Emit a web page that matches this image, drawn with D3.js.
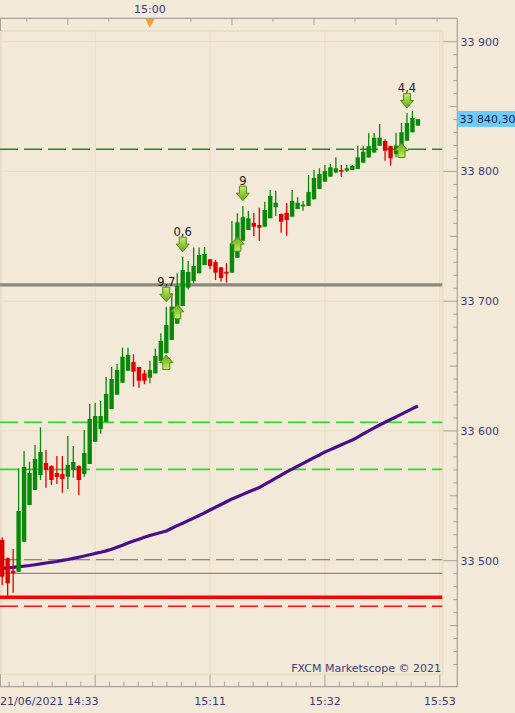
<!DOCTYPE html>
<html><head><meta charset="utf-8">
<script src="https://cdn.jsdelivr.net/npm/d3@7"></script>
<style>html,body{margin:0;padding:0;background:#f2e9d8;overflow:hidden}svg{display:block}</style>
</head><body>
<svg id="c" width="515" height="713"></svg>
<script>
// ---- data (1-minute candles, 21/06/2021 from 14:33) ----
const startTime = "2021-06-21T14:33:00";
const openV = [33516.0,33501.9,33492.3,33491.5,33514.6,33542.9,33554.5,33566.0,33575.3,33573.0,33567.6,33566.8,33564.7,33569.9,33573.0,33566.8,33574.5,33591.7,33601.5,33607.1,33616.9,33627.9,33637.2,33646.4,33653.1,33649.3,33644.4,33641.0,33644.4,33654.1,33659.9,33670.1,33682.7,33696.3,33710.4,33715.6,33721.5,33727.9,33732.3,33730.2,33726.1,33722.7,33722.0,33733.5,33746.6,33754.9,33760.3,33758.7,33757.4,33763.9,33772.4,33767.2,33768.2,33765.1,33771.1,33773.1,33773.4,33778.5,33786.5,33792.1,33796.0,33799.3,33801.1,33800.6,33801.1,33801.9,33806.7,33810.8,33814.6,33819.8,33823.5,33819.6,33813.4,33819.1,33823.7,33830.2,33835.3];
const highV = [33518.0,33502.5,33509.0,33571.2,33584.6,33576.3,33589.2,33602.8,33585.3,33573.5,33580.7,33580.7,33596.1,33588.4,33573.5,33600.7,33620.8,33621.8,33623.1,33641.6,33649.3,33651.6,33664.2,33664.2,33659.1,33649.5,33647.0,33654.1,33663.4,33675.3,33695.8,33706.3,33721.5,33734.1,33731.0,33741.4,33741.4,33741.8,33732.5,33731.8,33726.3,33729.2,33761.8,33767.7,33773.4,33769.5,33768.0,33772.1,33776.7,33785.7,33785.2,33767.5,33775.7,33785.7,33780.1,33777.2,33797.3,33801.1,33802.4,33805.0,33805.7,33810.9,33805.0,33805.0,33805.0,33819.6,33819.8,33829.4,33829.6,33836.6,33824.8,33819.8,33829.9,33837.3,33845.0,33846.6,33840.5];
const lowV = [33481.3,33473.0,33475.3,33491.3,33514.6,33542.9,33554.5,33562.2,33556.3,33558.3,33559.1,33552.4,33555.3,33564.0,33550.6,33564.7,33574.5,33591.7,33597.9,33607.1,33616.9,33627.9,33637.2,33646.4,33634.1,33633.3,33636.0,33636.7,33644.4,33654.1,33659.9,33670.1,33682.7,33696.3,33709.0,33714.0,33721.5,33727.9,33724.6,33716.3,33715.0,33714.3,33722.0,33733.5,33746.6,33754.9,33750.3,33746.6,33757.4,33763.9,33765.7,33752.8,33750.5,33765.1,33771.1,33769.7,33773.4,33778.5,33786.5,33792.1,33796.0,33798.6,33796.0,33799.8,33801.1,33801.9,33806.7,33810.8,33814.6,33819.8,33808.3,33804.4,33811.0,33819.1,33823.7,33830.2,33835.3];
const closeV = [33487.7,33482.6,33490.3,33538.3,33572.2,33567.6,33578.4,33583.8,33569.9,33562.2,33564.5,33563.0,33573.8,33576.1,33562.2,33583.0,33609.2,33611.5,33611.5,33628.5,33640.0,33647.0,33657.2,33658.5,33645.7,33638.7,33638.7,33647.0,33657.8,33669.3,33681.7,33695.8,33711.7,33724.0,33722.5,33727.1,33735.6,33736.4,33727.1,33722.0,33717.9,33721.2,33744.6,33760.8,33764.7,33763.9,33757.4,33756.7,33770.3,33781.1,33775.9,33761.3,33762.6,33777.2,33775.9,33774.4,33784.2,33795.0,33798.0,33800.3,33803.2,33802.4,33799.8,33802.4,33804.2,33810.9,33815.2,33819.6,33826.0,33826.0,33816.0,33810.1,33820.0,33830.2,33837.3,33841.2,33840.3];
const maV = [33494.1,33494.5,33494.9,33495.4,33495.8,33496.3,33496.9,33497.5,33498.2,33498.8,33499.4,33500.2,33500.9,33501.8,33502.7,33503.6,33504.6,33505.6,33506.5,33507.6,33508.8,33510.4,33512.0,33513.6,33515.2,33516.6,33518.0,33519.4,33520.6,33521.7,33522.9,33525.0,33527.0,33528.9,33530.9,33532.8,33534.8,33536.9,33539.1,33541.2,33543.3,33545.4,33547.6,33549.3,33551.1,33552.9,33554.6,33556.4,33558.8,33561.2,33563.6,33566.0,33568.4,33570.6,33572.8,33575.0,33577.2,33579.4,33581.5,33583.8,33585.6,33587.5,33589.3,33591.2,33593.0,33595.3,33597.7,33600.0,33602.3,33604.6,33606.7,33608.8,33610.8,33613.0,33615.1,33617.2,33619.2];

// horizontal levels
const levelPrices = [33817.1, 33712.3, 33713.6, 33606.7, 33570.4, 33500.8, 33490.3, 33471.8, 33464.9];
const levelKinds  = ["darkGreenDash","grayThick","greenThin","limeDash","limeDash","grayDash","graySolid","redThick","redDash"];

// signals
const sigIndex = [30, 33, 44, 74, 30, 32, 43, 73];
const sigDir   = ["down","down","down","down","up","up","up","up"];
const sigPrice = [33699.6, 33738.2, 33777.5, 33848.9, 33658.5, 33697.6, 33749.7, 33821.9];
const sigLabel = ["9,7","0,6","9","4,4","","","",""];

const priceTicks = [33500, 33600, 33700, 33800, 33900];
const lastPrice = 33840.30;
const topLabelTimes = ["15:00"];
const bottomLabelTimes = ["15:11","15:32","15:53"];
const firstLabel = "21/06/2021 14:33";
const watermark = "FXCM Marketscope © 2021";

// ---- drawing ----
const svg = d3.select("#c");
const FONT = "DejaVu Sans, Verdana, sans-serif";
const TXT = "#3d3d78";
const parse = d3.timeParse("%Y-%m-%dT%H:%M:%S");
const t0 = parse(startTime);
const tAt = hm => { const [h,m] = hm.split(":").map(Number); const d = new Date(t0); d.setHours(h, m, 0, 0); return d; };
const times = openV.map((_, i) => new Date(t0.getTime() + i * 60000));

const x = d3.scaleTime().domain([t0, tAt("15:53")]).range([2.2, 439.8]);
const y = d3.scaleLinear().domain([33500, 33900]).range([560.7, 41.7]);

const plot = {l: 1, r: 442.5, t: 31, b: 674.3};
const axisRight = 457.3, axisTop = 18.3, axisBottom = 686.7;

svg.append("rect").attr("width", 515).attr("height", 713).attr("fill", "#f2e9d8");

const clip = svg.append("defs").append("clipPath").attr("id","pc")
  .append("rect").attr("x", 0).attr("y", plot.t).attr("width", plot.r).attr("height", plot.b - plot.t);

const grad = svg.select("defs").append("linearGradient").attr("id","ag").attr("x1",0).attr("y1",0).attr("x2",0).attr("y2",1);
grad.append("stop").attr("offset","0%").attr("stop-color","#c4ee6a");
grad.append("stop").attr("offset","100%").attr("stop-color","#62a814");
const grad2 = svg.select("defs").append("linearGradient").attr("id","ag2").attr("x1",0).attr("y1",1).attr("x2",0).attr("y2",0);
grad2.append("stop").attr("offset","0%").attr("stop-color","#c4ee6a");
grad2.append("stop").attr("offset","100%").attr("stop-color","#62a814");

const GRID = "#ecdcc0";
// plot border
svg.append("rect").attr("x", plot.l).attr("y", plot.t).attr("width", plot.r - plot.l).attr("height", plot.b - plot.t)
  .attr("fill", "none").attr("stroke", GRID).attr("stroke-width", 1.5);

// grid
const gridTimes = ["14:50","15:11","15:32","15:53"].map(tAt);
svg.append("g").selectAll("line").data(gridTimes).join("line")
  .attr("x1", d => x(d)).attr("x2", d => x(d)).attr("y1", plot.t).attr("y2", plot.b)
  .attr("stroke", GRID).attr("stroke-width", 1);
svg.append("g").selectAll("line").data(priceTicks).join("line")
  .attr("x1", plot.l).attr("x2", plot.r).attr("y1", d => y(d)).attr("y2", d => y(d))
  .attr("stroke", GRID).attr("stroke-width", 1);

const pg = svg.append("g").attr("clip-path", "url(#pc)");

// level lines
const levelStyle = {
  darkGreenDash: {c:"#1f8a1f", w:1.3, d:"18,6"},
  grayThick: {c:"#8c8682", w:2.4, d:null},
  greenThin: {c:"#3ee03e", w:1, d:null},
  limeDash: {c:"#22dd22", w:1.6, d:"18,6"},
  grayDash: {c:"#8c8682", w:1.3, d:"18,6"},
  graySolid: {c:"#8c8682", w:1.2, d:null},
  redThick: {c:"#ff0000", w:3.4, d:null},
  redDash: {c:"#ff1010", w:1.4, d:"18,6"}
};
levelPrices.forEach((p, i) => {
  const s = levelStyle[levelKinds[i]];
  pg.append("line").attr("x1", 0).attr("x2", plot.r).attr("y1", y(p)).attr("y2", y(p))
    .attr("stroke", s.c).attr("stroke-width", s.w).attr("stroke-dasharray", s.d);
});

// MA line
pg.append("path").datum(maV)
  .attr("d", d3.line().x((d, i) => x(times[i])).y(d => y(d)))
  .attr("fill", "none").attr("stroke", "#4a0e8c").attr("stroke-width", 3.2).attr("stroke-linejoin","round");

// candles
const GREEN = "#088a08", RED = "#e00000";
const cg = pg.append("g");
times.forEach((t, i) => {
  const cx = x(t);
  const col = closeV[i] < openV[i] ? RED : GREEN;
  cg.append("line").attr("x1", cx).attr("x2", cx).attr("y1", y(highV[i])).attr("y2", y(lowV[i]))
    .attr("stroke", col).attr("stroke-width", 1.3);
  const top = y(Math.max(openV[i], closeV[i])), bot = y(Math.min(openV[i], closeV[i]));
  cg.append("rect").attr("x", cx - 2.2).attr("width", 4.4).attr("y", top).attr("height", Math.max(1.5, bot - top))
    .attr("fill", col);
});

// signals
sigIndex.forEach((ci, k) => {
  const cx = x(times[ci]), ty = y(sigPrice[k]);
  let p;
  if (sigDir[k] === "down") {
    p = `M${cx-3.5},${ty-14.5}H${cx+3.5}V${ty-7.5}H${cx+6.5}L${cx},${ty}L${cx-6.5},${ty-7.5}H${cx-3.5}Z`;
  } else {
    p = `M${cx-3.5},${ty+14.5}H${cx+3.5}V${ty+7.5}H${cx+6.5}L${cx},${ty}L${cx-6.5},${ty+7.5}H${cx-3.5}Z`;
  }
  pg.append("path").attr("d", p).attr("fill", sigDir[k] === "down" ? "url(#ag)" : "url(#ag2)")
    .attr("stroke", "#4f8d0e").attr("stroke-width", 1);
  if (sigLabel[k]) {
    pg.append("text").attr("x", cx).attr("y", ty - 14.5 - 5.5).attr("dy", "0.36em")
      .attr("text-anchor", "middle").attr("font-family", FONT).attr("font-size", 11.5)
      .attr("fill", "#1a1a1a").text(sigLabel[k]);
  }
});

// watermark
svg.append("text").attr("x", 441).attr("y", 667.7).attr("dy", "0.36em").attr("text-anchor", "end")
  .attr("font-family", FONT).attr("font-size", 11).attr("fill", TXT).text(watermark);

// axes frame
const AX = "#a9a29a";
svg.append("line").attr("x1", 0).attr("x2", axisRight).attr("y1", axisTop).attr("y2", axisTop).attr("stroke", AX).attr("stroke-width", 1.2);
svg.append("line").attr("x1", 0).attr("x2", axisRight).attr("y1", axisBottom).attr("y2", axisBottom).attr("stroke", AX).attr("stroke-width", 1.2);
svg.append("line").attr("x1", axisRight).attr("x2", axisRight).attr("y1", axisTop).attr("y2", axisBottom).attr("stroke", AX).attr("stroke-width", 1.2);
svg.append("line").attr("x1", 0.5).attr("x2", 0.5).attr("y1", axisTop).attr("y2", plot.t).attr("stroke", AX);
svg.append("line").attr("x1", 0.5).attr("x2", 0.5).attr("y1", plot.b).attr("y2", axisBottom).attr("stroke", AX);

// top ticks every 7.5 min
const topTicks = d3.range(-1, 11).map(k => new Date(tAt("14:45").getTime() + k * 450000)).filter(d => x(d) > 5 && x(d) < axisRight);
svg.append("g").selectAll("line").data(topTicks).join("line")
  .attr("x1", d => x(d)).attr("x2", d => x(d)).attr("y1", axisTop)
  .attr("y2", d => d.getMinutes() % 15 === 0 && d.getSeconds() === 0 ? axisTop + 6.7 : axisTop + 3.4)
  .attr("stroke", AX).attr("stroke-width", 1);
// top label & marker
topLabelTimes.forEach(s => {
  const tx = x(tAt(s));
  svg.append("text").attr("x", tx).attr("y", 9).attr("dy", "0.36em").attr("text-anchor", "middle")
    .attr("font-family", FONT).attr("font-size", 11).attr("fill", TXT).text(s);
  svg.append("path").attr("d", `M${tx-4.5},19H${tx+4.5}L${tx},28Z`).attr("fill", "#f5a020");
});

// bottom ticks (major every 21 min, minor every 2.625 min)
const bottomTicks = d3.range(-6, 25).map(k => new Date(tAt("14:50").getTime() + k * 157500)).filter(d => x(d) > 3 && x(d) < axisRight);
svg.append("g").selectAll("line").data(bottomTicks).join("line")
  .attr("x1", d => x(d)).attr("x2", d => x(d)).attr("y1", axisBottom)
  .attr("y2", (d, i) => ((i + 2) % 8 === 0) ? plot.b + 0.5 : axisBottom - 5)
  .attr("stroke", AX).attr("stroke-width", 1);
svg.append("text").attr("x", 0).attr("y", 701).attr("dy", "0.36em").attr("font-family", FONT)
  .attr("font-size", 11).attr("fill", TXT).text(firstLabel);
bottomLabelTimes.forEach(s => {
  svg.append("text").attr("x", x(tAt(s))).attr("y", 701).attr("dy", "0.36em").attr("text-anchor", "middle")
    .attr("font-family", FONT).attr("font-size", 11).attr("fill", TXT).text(s);
});

// right axis ticks every 10
const loc = d3.formatLocale({decimal: ",", thousands: " ", grouping: [3], currency: ["", ""]});
const fmt0 = loc.format(",.0f"), fmt2 = loc.format(",.2f");
const rTicks = d3.range(33400, 33930, 10).filter(p => y(p) > plot.t + 0.5 && y(p) < plot.b - 2);
svg.append("g").selectAll("line").data(rTicks).join("line")
  .attr("x1", p => p % 100 === 0 ? 443.3 : (p % 50 === 0 ? 450 : 453.3)).attr("x2", axisRight)
  .attr("y1", p => y(p)).attr("y2", p => y(p)).attr("stroke", AX).attr("stroke-width", 1);
svg.append("g").selectAll("text").data(priceTicks).join("text")
  .attr("x", 460.5).attr("y", p => y(p)).attr("dy", "0.36em")
  .attr("font-family", FONT).attr("font-size", 11).attr("fill", TXT).text(p => fmt0(p));

// last price box
svg.append("rect").attr("x", 457.8).attr("y", y(lastPrice) - 8.2).attr("width", 60).attr("height", 16).attr("fill", "#6ccbf9");
svg.append("text").attr("x", 459.5).attr("y", y(lastPrice)).attr("dy", "0.36em")
  .attr("font-family", FONT).attr("font-size", 11).attr("fill", "#1c1c40").text(fmt2(lastPrice));
</script>
</body></html>
